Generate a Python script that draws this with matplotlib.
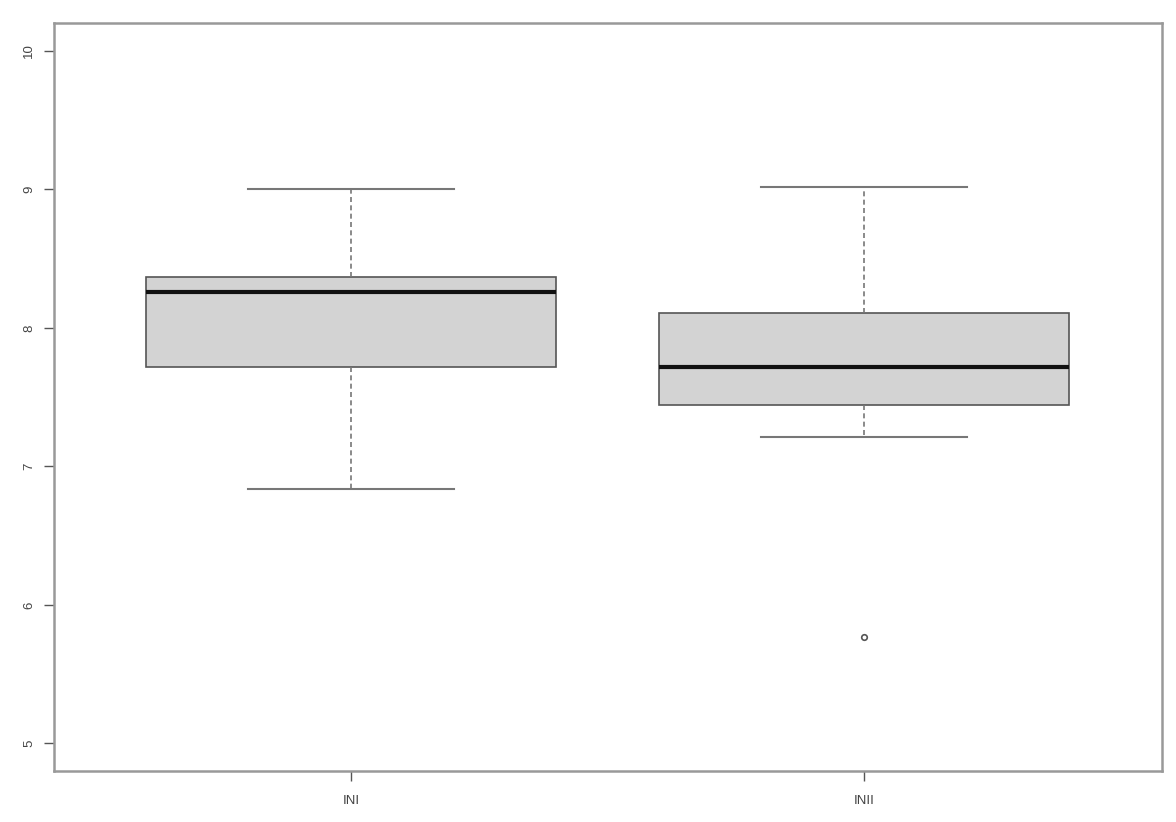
import matplotlib
matplotlib.use("Agg")
import matplotlib.pyplot as plt

# values
groups = ["INI", "INII"]
whislo = [6.84, 7.21]
q1 = [7.72, 7.44]
med = [8.26, 7.72]
q3 = [8.37, 8.11]
whishi = [9.00, 9.02]
fliers = [[], [5.77]]
yticks = [5, 6, 7, 8, 9, 10]

plt.rcParams["font.family"] = ["Liberation Sans", "DejaVu Sans"]

stats = []
for i in range(len(groups)):
    stats.append(dict(label=groups[i], whislo=whislo[i], q1=q1[i], med=med[i],
                      q3=q3[i], whishi=whishi[i], fliers=fliers[i]))

fig = plt.figure(figsize=(11.76, 8.22), dpi=100)
ax = fig.add_axes([0.0455, 0.062, 0.9422, 0.9097])

ax.bxp(stats, positions=[1, 2], widths=0.8, patch_artist=True,
       boxprops=dict(facecolor="#d3d3d3", edgecolor="#555555", linewidth=1.2),
       medianprops=dict(color="#111111", linewidth=3),
       whiskerprops=dict(color="#777777", linestyle=(0, (3, 2)), linewidth=1.2),
       capprops=dict(color="#777777", linewidth=1.5),
       capwidths=0.4,
       flierprops=dict(marker="o", markersize=4, markerfacecolor="none",
                       markeredgecolor="#555555", markeredgewidth=1.2))

ax.set_xlim(0.42, 2.58)
ax.set_ylim(4.8, 10.2)
ax.set_yticks(yticks)
ax.set_yticklabels([str(t) for t in yticks], rotation=90, va="center")
ax.tick_params(axis="both", labelsize=9.5, colors="#555555", length=7, width=1)
ax.tick_params(axis="y", pad=6)
ax.tick_params(axis="x", pad=10)
for lab in ax.get_xticklabels() + ax.get_yticklabels():
    lab.set_color("#444444")
for s in ax.spines.values():
    s.set_color("#999999")
    s.set_linewidth(1.8)

fig.savefig("out.png", dpi=100)
